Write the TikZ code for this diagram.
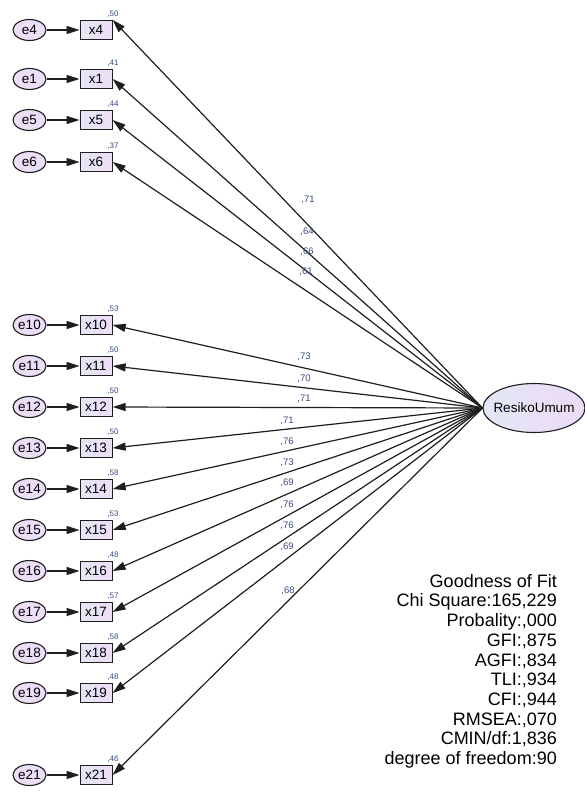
\documentclass[tikz,border=0pt]{standalone}
\usepackage{fontspec}
\setmainfont{Liberation Sans}
\usetikzlibrary{shapes.geometric,arrows.meta,positioning}
\definecolor{errfill}{RGB}{236,222,246}
\definecolor{boxleft}{RGB}{228,230,246}
\definecolor{boxright}{RGB}{238,222,246}
\definecolor{latleft}{RGB}{226,232,246}
\definecolor{latright}{RGB}{238,218,246}
\definecolor{numcol}{RGB}{55,75,125}
\definecolor{edgecol}{RGB}{30,30,30}

\begin{document}
\begin{tikzpicture}[x=1pt, y=-1pt,
  errnode/.style={ellipse, draw=edgecol, line width=1.1pt, fill=errfill, minimum width=33pt, minimum height=21pt, inner xsep=-3pt, inner ysep=0pt, font=\fontsize{13.5}{14}\selectfont},
  obsbox/.style={rectangle, draw=edgecol, line width=1.1pt, left color=boxleft, right color=boxright, minimum width=32pt, minimum height=19pt, inner sep=0pt, font=\fontsize{13.5}{14}\selectfont, right=33pt of #1},
  latent/.style={ellipse, draw=edgecol, line width=1.1pt, left color=latleft, right color=latright, minimum width=102pt, minimum height=49pt, inner xsep=-7pt, inner ysep=0pt, font=\fontsize{13.5}{14}\selectfont},
  varlab/.style={text=numcol, inner sep=0.5pt, font=\fontsize{8}{9}\selectfont, above right=2pt and -6pt of #1},
  coef/.style={text=numcol, inner sep=0.5pt, font=\fontsize{9.5}{10}\selectfont},
  errarrow/.style={-{Triangle[length=13pt, width=8pt]}, line width=1.3pt, color=edgecol},
  loadarrow/.style={-{Triangle[length=13pt, width=8pt]}, line width=1.2pt, color=edgecol}]
\useasboundingbox (0,0) rectangle (585,792);
% latent factor
\node[latent] (ru) at (534,408) {ResikoUmum};
% error terms
\node[errnode] (e4) at (29.5,30) {e4};
\node[errnode] (e1) at (29.5,79) {e1};
\node[errnode] (e5) at (29.5,120) {e5};
\node[errnode] (e6) at (29.5,162) {e6};
\node[errnode] (e10) at (29.5,325) {e10};
\node[errnode] (e11) at (29.5,366) {e11};
\node[errnode] (e12) at (29.5,407) {e12};
\node[errnode] (e13) at (29.5,448) {e13};
\node[errnode] (e14) at (29.5,489) {e14};
\node[errnode] (e15) at (29.5,530) {e15};
\node[errnode] (e16) at (29.5,571) {e16};
\node[errnode] (e17) at (29.5,612) {e17};
\node[errnode] (e18) at (29.5,653) {e18};
\node[errnode] (e19) at (29.5,693) {e19};
\node[errnode] (e21) at (29.5,775) {e21};
% observed items
\node[obsbox=e4] (x4) {x4};
\node[obsbox=e1] (x1) {x1};
\node[obsbox=e5] (x5) {x5};
\node[obsbox=e6] (x6) {x6};
\node[obsbox=e10] (x10) {x10};
\node[obsbox=e11] (x11) {x11};
\node[obsbox=e12] (x12) {x12};
\node[obsbox=e13] (x13) {x13};
\node[obsbox=e14] (x14) {x14};
\node[obsbox=e15] (x15) {x15};
\node[obsbox=e16] (x16) {x16};
\node[obsbox=e17] (x17) {x17};
\node[obsbox=e18] (x18) {x18};
\node[obsbox=e19] (x19) {x19};
\node[obsbox=e21] (x21) {x21};
% squared multiple correlations
\node[varlab=x4.north east] (r4) {,50};
\node[varlab=x1.north east] (r1) {,41};
\node[varlab=x5.north east] (r5) {,44};
\node[varlab=x6.north east] (r6) {,37};
\node[varlab=x10.north east] (r10) {,53};
\node[varlab=x11.north east] (r11) {,50};
\node[varlab=x12.north east] (r12) {,50};
\node[varlab=x13.north east] (r13) {,50};
\node[varlab=x14.north east] (r14) {,58};
\node[varlab=x15.north east] (r15) {,53};
\node[varlab=x16.north east] (r16) {,48};
\node[varlab=x17.north east] (r17) {,57};
\node[varlab=x18.north east] (r18) {,58};
\node[varlab=x19.north east] (r19) {,48};
\node[varlab=x21.north east] (r21) {,46};
% error paths
\draw[errarrow] (e4) -- (x4);
\draw[errarrow] (e1) -- (x1);
\draw[errarrow] (e5) -- (x5);
\draw[errarrow] (e6) -- (x6);
\draw[errarrow] (e10) -- (x10);
\draw[errarrow] (e11) -- (x11);
\draw[errarrow] (e12) -- (x12);
\draw[errarrow] (e13) -- (x13);
\draw[errarrow] (e14) -- (x14);
\draw[errarrow] (e15) -- (x15);
\draw[errarrow] (e16) -- (x16);
\draw[errarrow] (e17) -- (x17);
\draw[errarrow] (e18) -- (x18);
\draw[errarrow] (e19) -- (x19);
\draw[errarrow] (e21) -- (x21);
% loadings
\draw[loadarrow] (ru.west) -- (x4.north east);
\draw[loadarrow] (ru.west) -- (x1.east);
\draw[loadarrow] (ru.west) -- (x5.east);
\draw[loadarrow] (ru.west) -- (x6.east);
\draw[loadarrow] (ru.west) -- (x10.east);
\draw[loadarrow] (ru.west) -- (x11.east);
\draw[loadarrow] (ru.west) -- (x12.east);
\draw[loadarrow] (ru.west) -- (x13.east);
\draw[loadarrow] (ru.west) -- (x14.east);
\draw[loadarrow] (ru.west) -- (x15.east);
\draw[loadarrow] (ru.west) -- (x16.east);
\draw[loadarrow] (ru.west) -- (x17.east);
\draw[loadarrow] (ru.west) -- (x18.east);
\draw[loadarrow] (ru.west) -- (x19.east);
\draw[loadarrow] (ru.west) -- (x21.east);
% loading values
\node[coef] (c4) at (308,200) {,71};
\node[coef] (c1) at (307,232) {,64};
\node[coef] (c5) at (307,252) {,66};
\node[coef] (c6) at (306,272) {,61};
\node[coef] (c10) at (304,357) {,73};
\node[coef] (c11) at (304,379) {,70};
\node[coef] (c12) at (304,399) {,71};
\node[coef] (c13) at (287,421) {,71};
\node[coef] (c14) at (287,442) {,76};
\node[coef] (c15) at (287,463) {,73};
\node[coef] (c16) at (287,483) {,69};
\node[coef] (c17) at (287,505) {,76};
\node[coef] (c18) at (287,526) {,76};
\node[coef] (c19) at (287,547) {,69};
\node[coef] (c21) at (288,591) {,68};
% fit indices
\node[anchor=north east, align=right, inner sep=0pt, font=\fontsize{18}{19.7}\selectfont] (fit) at (557,574) {Goodness of Fit\\Chi Square:165,229\\Probality:,000\\GFI:,875\\AGFI:,834\\TLI:,934\\CFI:,944\\RMSEA:,070\\CMIN/df:1,836\\degree of freedom:90};
\end{tikzpicture}
\end{document}
